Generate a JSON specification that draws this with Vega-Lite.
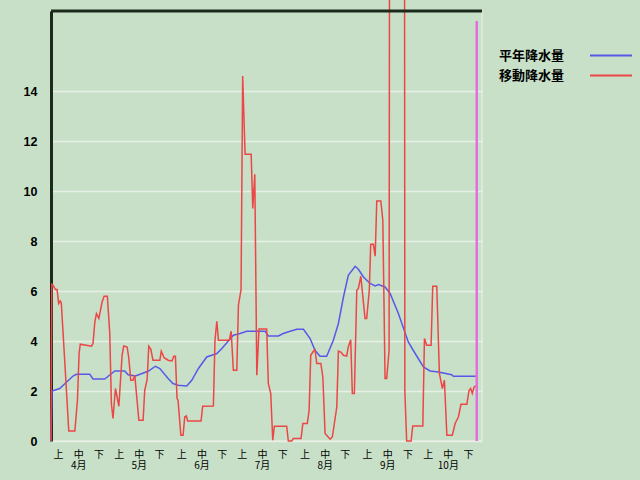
{
  "$schema": "https://vega.github.io/schema/vega-lite/v6.json",
  "width": 431,
  "height": 430,
  "autosize": {"type": "none"},
  "padding": {"left": 51, "top": 11, "right": 158, "bottom": 40},
  "background": "#c8e0c8",
  "config": {
    "view": {"stroke": "#e2ece0", "strokeWidth": 1.5},
    "font": "Noto Sans CJK JP",
    "axis": {"labelOverlap": false}
  },
  "encoding": {
    "x": {
      "field": "d",
      "type": "quantitative",
      "scale": {"domain": [1.5, 214.9], "nice": false, "zero": false},
      "axis": {
        "values": [5, 15, 25, 35, 45, 55, 66, 76, 86, 96, 106, 116, 127, 137, 147, 158, 168, 178, 188, 198, 208],
        "labelExpr": "indexof([5,15,25,35,45,55,66,76,86,96,106,116,127,137,147,158,168,178,188,198,208], datum.value) % 3 == 1 ? ['中', (floor(indexof([5,15,25,35,45,55,66,76,86,96,106,116,127,137,147,158,168,178,188,198,208], datum.value) / 3) + 4) + '月'] : (indexof([5,15,25,35,45,55,66,76,86,96,106,116,127,137,147,158,168,178,188,198,208], datum.value) % 3 == 0 ? '上' : '下')",
        "grid": false,
        "domain": false,
        "ticks": false,
        "labelPadding": 8,
        "labelFont": "Noto Sans CJK JP",
        "labelFontSize": 10,
        "labelColor": "#000000",
        "labelAngle": 0,
        "labelBaseline": "top",
        "labelLineHeight": 11,
        "labelOverlap": false,
        "labelBound": false,
        "labelFlush": false,
        "title": null
      }
    },
    "y": {
      "field": "v",
      "type": "quantitative",
      "scale": {"domain": [0, 17.2], "nice": false},
      "axis": {
        "values": [0, 2, 4, 6, 8, 10, 12, 14],
        "grid": true,
        "gridColor": "#e6f0e4",
        "gridWidth": 1.5,
        "domainColor": "#1c2a1c",
        "domainWidth": 3,
        "ticks": false,
        "labelPadding": 14,
        "labelFont": "Liberation Sans",
        "labelFontWeight": "bold",
        "labelFontSize": 12.5,
        "labelColor": "#000000",
        "title": null
      }
    }
  },
  "layer": [
    {
      "data": {
        "values": [
          {"s": "平年降水量", "d": 1.5, "v": 0},
          {"s": "平年降水量", "d": 2.0, "v": 2.0},
          {"s": "平年降水量", "d": 5.8, "v": 2.1},
          {"s": "平年降水量", "d": 12.4, "v": 2.6},
          {"s": "平年降水量", "d": 14.1, "v": 2.67},
          {"s": "平年降水量", "d": 20.7, "v": 2.67},
          {"s": "平年降水量", "d": 22.3, "v": 2.48},
          {"s": "平年降水量", "d": 28.1, "v": 2.48},
          {"s": "平年降水量", "d": 29.8, "v": 2.59},
          {"s": "平年降水量", "d": 33.1, "v": 2.8},
          {"s": "平年降水量", "d": 38.0, "v": 2.8},
          {"s": "平年降水量", "d": 39.7, "v": 2.65},
          {"s": "平年降水量", "d": 43.3, "v": 2.6},
          {"s": "平年降水量", "d": 49.6, "v": 2.79},
          {"s": "平年降水量", "d": 53.2, "v": 2.99},
          {"s": "平年降水量", "d": 55.4, "v": 2.9},
          {"s": "平年降水量", "d": 59.5, "v": 2.5},
          {"s": "平年降水量", "d": 61.9, "v": 2.3},
          {"s": "平年降水量", "d": 64.4, "v": 2.23},
          {"s": "平年降水量", "d": 68.7, "v": 2.2},
          {"s": "平年降水量", "d": 71.2, "v": 2.43},
          {"s": "平年降水量", "d": 74.5, "v": 2.9},
          {"s": "平年降水量", "d": 78.6, "v": 3.36},
          {"s": "平年降水量", "d": 81.1, "v": 3.43},
          {"s": "平年降水量", "d": 83.6, "v": 3.5},
          {"s": "平年降水量", "d": 86.1, "v": 3.7},
          {"s": "平年降水量", "d": 89.3, "v": 4.0},
          {"s": "平年降水量", "d": 91.8, "v": 4.23},
          {"s": "平年降水量", "d": 95.1, "v": 4.3},
          {"s": "平年降水量", "d": 98.4, "v": 4.39},
          {"s": "平年降水量", "d": 107.5, "v": 4.39},
          {"s": "平年降水量", "d": 109.1, "v": 4.2},
          {"s": "平年降水量", "d": 114.1, "v": 4.2},
          {"s": "平年降水量", "d": 116.5, "v": 4.3},
          {"s": "平年降水量", "d": 119.9, "v": 4.39},
          {"s": "平年降水量", "d": 123.2, "v": 4.47},
          {"s": "平年降水量", "d": 126.5, "v": 4.47},
          {"s": "平年降水量", "d": 129.8, "v": 4.1},
          {"s": "平年降水量", "d": 132.2, "v": 3.63},
          {"s": "平年降水量", "d": 134.7, "v": 3.39},
          {"s": "平年降水量", "d": 138.0, "v": 3.39},
          {"s": "平年降水量", "d": 141.3, "v": 4.03},
          {"s": "平年降水量", "d": 143.8, "v": 4.7},
          {"s": "平年降水量", "d": 146.3, "v": 5.76},
          {"s": "平年降水量", "d": 148.7, "v": 6.63},
          {"s": "平年降水量", "d": 152.1, "v": 6.99},
          {"s": "平年降水量", "d": 153.7, "v": 6.87},
          {"s": "平年降水量", "d": 156.2, "v": 6.56},
          {"s": "平年降水量", "d": 159.5, "v": 6.3},
          {"s": "平年降水量", "d": 162.0, "v": 6.2},
          {"s": "平年降水量", "d": 163.6, "v": 6.26},
          {"s": "平年降水量", "d": 166.9, "v": 6.16},
          {"s": "平年降水量", "d": 169.4, "v": 5.9},
          {"s": "平年降水量", "d": 173.5, "v": 5.1},
          {"s": "平年降水量", "d": 178.4, "v": 3.96},
          {"s": "平年降水量", "d": 181.8, "v": 3.5},
          {"s": "平年降水量", "d": 185.9, "v": 2.96},
          {"s": "平年降水量", "d": 189.2, "v": 2.8},
          {"s": "平年降水量", "d": 193.3, "v": 2.76},
          {"s": "平年降水量", "d": 199.9, "v": 2.65},
          {"s": "平年降水量", "d": 200.7, "v": 2.59},
          {"s": "平年降水量", "d": 212.3, "v": 2.59},
          {"s": "移動降水量", "d": 1.5, "v": 0},
          {"s": "移動降水量", "d": 1.9, "v": 6.27},
          {"s": "移動降水量", "d": 2.5, "v": 6.23},
          {"s": "移動降水量", "d": 3.7, "v": 6.06},
          {"s": "移動降水量", "d": 4.5, "v": 6.06},
          {"s": "移動降水量", "d": 5.3, "v": 5.5},
          {"s": "移動降水量", "d": 6.1, "v": 5.6},
          {"s": "移動降水量", "d": 6.6, "v": 5.52},
          {"s": "移動降水量", "d": 8.3, "v": 3.2},
          {"s": "移動降水量", "d": 10.3, "v": 0.4},
          {"s": "移動降水量", "d": 13.3, "v": 0.4},
          {"s": "移動降水量", "d": 14.6, "v": 1.63},
          {"s": "移動降水量", "d": 15.4, "v": 3.5},
          {"s": "移動降水量", "d": 16.0, "v": 3.87},
          {"s": "移動降水量", "d": 21.5, "v": 3.79},
          {"s": "移動降水量", "d": 22.3, "v": 3.9},
          {"s": "移動降水量", "d": 23.2, "v": 4.76},
          {"s": "移動降水量", "d": 24.0, "v": 5.1},
          {"s": "移動降水量", "d": 25.2, "v": 4.9},
          {"s": "移動降水量", "d": 26.8, "v": 5.56},
          {"s": "移動降水量", "d": 27.8, "v": 5.79},
          {"s": "移動降水量", "d": 29.4, "v": 5.79},
          {"s": "移動降水量", "d": 30.6, "v": 4.3},
          {"s": "移動降水量", "d": 31.4, "v": 1.5},
          {"s": "移動降水量", "d": 32.2, "v": 0.9},
          {"s": "移動降水量", "d": 33.4, "v": 2.1},
          {"s": "移動降水量", "d": 35.1, "v": 1.39},
          {"s": "移動降水量", "d": 36.7, "v": 3.43},
          {"s": "移動降水量", "d": 37.5, "v": 3.8},
          {"s": "移動降水量", "d": 39.2, "v": 3.76},
          {"s": "移動降水量", "d": 40.0, "v": 3.33},
          {"s": "移動降水量", "d": 41.0, "v": 2.43},
          {"s": "移動降水量", "d": 42.1, "v": 2.43},
          {"s": "移動降水量", "d": 43.0, "v": 2.63},
          {"s": "移動降水量", "d": 43.8, "v": 1.9},
          {"s": "移動降水量", "d": 45.0, "v": 0.83},
          {"s": "移動降水量", "d": 47.1, "v": 0.83},
          {"s": "移動降水量", "d": 47.9, "v": 2.03},
          {"s": "移動降水量", "d": 49.1, "v": 2.46},
          {"s": "移動降水量", "d": 49.9, "v": 3.79},
          {"s": "移動降水量", "d": 50.9, "v": 3.68},
          {"s": "移動降水量", "d": 52.0, "v": 3.23},
          {"s": "移動降水量", "d": 55.4, "v": 3.23},
          {"s": "移動降水量", "d": 56.1, "v": 3.59},
          {"s": "移動降水量", "d": 57.5, "v": 3.33},
          {"s": "移動降水量", "d": 59.5, "v": 3.23},
          {"s": "移動降水量", "d": 61.4, "v": 3.2},
          {"s": "移動降水量", "d": 62.3, "v": 3.39},
          {"s": "移動降水量", "d": 63.1, "v": 3.39},
          {"s": "移動降水量", "d": 63.9, "v": 1.7},
          {"s": "移動降水量", "d": 64.4, "v": 1.63},
          {"s": "移動降水量", "d": 65.8, "v": 0.23},
          {"s": "移動降水量", "d": 66.9, "v": 0.23},
          {"s": "移動降水量", "d": 67.7, "v": 0.96},
          {"s": "移動降水量", "d": 68.5, "v": 1.0},
          {"s": "移動降水量", "d": 69.2, "v": 0.8},
          {"s": "移動降水量", "d": 75.8, "v": 0.8},
          {"s": "移動降水量", "d": 76.6, "v": 1.39},
          {"s": "移動降水量", "d": 81.9, "v": 1.4},
          {"s": "移動降水量", "d": 82.7, "v": 4.03},
          {"s": "移動降水量", "d": 83.6, "v": 4.79},
          {"s": "移動降水量", "d": 84.4, "v": 4.03},
          {"s": "移動降水量", "d": 89.8, "v": 4.03},
          {"s": "移動降水量", "d": 90.7, "v": 4.39},
          {"s": "移動降水量", "d": 91.8, "v": 2.83},
          {"s": "移動降水量", "d": 93.5, "v": 2.83},
          {"s": "移動降水量", "d": 94.3, "v": 5.43},
          {"s": "移動降水量", "d": 95.6, "v": 6.06},
          {"s": "移動降水量", "d": 96.4, "v": 14.6},
          {"s": "移動降水量", "d": 97.6, "v": 11.47},
          {"s": "移動降水量", "d": 100.6, "v": 11.47},
          {"s": "移動降水量", "d": 101.4, "v": 9.3},
          {"s": "移動降水量", "d": 102.4, "v": 10.67},
          {"s": "移動降水量", "d": 103.4, "v": 2.63},
          {"s": "移動降水量", "d": 104.5, "v": 4.48},
          {"s": "移動降水量", "d": 108.3, "v": 4.48},
          {"s": "移動降水量", "d": 109.1, "v": 2.3},
          {"s": "移動降水量", "d": 110.3, "v": 1.9},
          {"s": "移動降水量", "d": 111.3, "v": 0.03},
          {"s": "移動降水量", "d": 112.1, "v": 0.59},
          {"s": "移動降水量", "d": 118.2, "v": 0.59},
          {"s": "移動降水量", "d": 119.0, "v": 0.0},
          {"s": "移動降水量", "d": 120.7, "v": 0.0},
          {"s": "移動降水量", "d": 121.5, "v": 0.1},
          {"s": "移動降水量", "d": 125.3, "v": 0.1},
          {"s": "移動降水量", "d": 126.2, "v": 0.7},
          {"s": "移動降水量", "d": 128.4, "v": 0.7},
          {"s": "移動降水量", "d": 129.3, "v": 1.23},
          {"s": "移動降水量", "d": 130.1, "v": 3.43},
          {"s": "移動降水量", "d": 131.4, "v": 3.59},
          {"s": "移動降水量", "d": 132.2, "v": 3.65},
          {"s": "移動降水量", "d": 133.1, "v": 3.1},
          {"s": "移動降水量", "d": 135.1, "v": 3.1},
          {"s": "移動降水量", "d": 136.1, "v": 2.56},
          {"s": "移動降水量", "d": 137.2, "v": 0.3},
          {"s": "移動降水量", "d": 139.7, "v": 0.07},
          {"s": "移動降水量", "d": 140.8, "v": 0.16},
          {"s": "移動降水量", "d": 143.0, "v": 1.36},
          {"s": "移動降水量", "d": 143.8, "v": 3.6},
          {"s": "移動降水量", "d": 145.0, "v": 3.56},
          {"s": "移動降水量", "d": 146.3, "v": 3.43},
          {"s": "移動降水量", "d": 147.9, "v": 3.4},
          {"s": "移動降水量", "d": 148.7, "v": 3.76},
          {"s": "移動降水量", "d": 149.9, "v": 4.05},
          {"s": "移動降水量", "d": 150.7, "v": 1.9},
          {"s": "移動降水量", "d": 151.7, "v": 1.9},
          {"s": "移動降水量", "d": 152.9, "v": 6.03},
          {"s": "移動降水量", "d": 153.7, "v": 6.1},
          {"s": "移動降水量", "d": 154.9, "v": 6.59},
          {"s": "移動降水量", "d": 157.0, "v": 4.9},
          {"s": "移動降水量", "d": 157.8, "v": 4.9},
          {"s": "移動降水量", "d": 159.1, "v": 6.03},
          {"s": "移動降水量", "d": 159.8, "v": 7.87},
          {"s": "移動降水量", "d": 161.1, "v": 7.87},
          {"s": "移動降水量", "d": 162.0, "v": 7.39},
          {"s": "移動降水量", "d": 162.8, "v": 9.6},
          {"s": "移動降水量", "d": 164.8, "v": 9.6},
          {"s": "移動降水量", "d": 165.8, "v": 8.83},
          {"s": "移動降水量", "d": 166.9, "v": 2.5},
          {"s": "移動降水量", "d": 167.7, "v": 2.5},
          {"s": "移動降水量", "d": 168.9, "v": 3.63},
          {"s": "移動降水量", "d": 169.6, "v": 60},
          {"s": "移動降水量", "d": 176.2, "v": 60},
          {"s": "移動降水量", "d": 176.7, "v": 2.0},
          {"s": "移動降水量", "d": 177.6, "v": 0},
          {"s": "移動降水量", "d": 179.8, "v": 0},
          {"s": "移動降水量", "d": 180.6, "v": 0.6},
          {"s": "移動降水量", "d": 185.6, "v": 0.6},
          {"s": "移動降水量", "d": 186.4, "v": 4.1},
          {"s": "移動降水量", "d": 187.5, "v": 3.83},
          {"s": "移動降水量", "d": 189.7, "v": 3.83},
          {"s": "移動降水量", "d": 190.5, "v": 6.19},
          {"s": "移動降水量", "d": 192.5, "v": 6.19},
          {"s": "移動降水量", "d": 193.8, "v": 2.7},
          {"s": "移動降水量", "d": 195.3, "v": 2.1},
          {"s": "移動降水量", "d": 196.3, "v": 2.43},
          {"s": "移動降水量", "d": 197.5, "v": 0.23},
          {"s": "移動降水量", "d": 200.2, "v": 0.23},
          {"s": "移動降水量", "d": 201.6, "v": 0.7},
          {"s": "移動降水量", "d": 203.2, "v": 0.96},
          {"s": "移動降水量", "d": 204.5, "v": 1.47},
          {"s": "移動降水量", "d": 207.4, "v": 1.47},
          {"s": "移動降水量", "d": 208.5, "v": 2.03},
          {"s": "移動降水量", "d": 209.3, "v": 2.1},
          {"s": "移動降水量", "d": 210.1, "v": 1.9},
          {"s": "移動降水量", "d": 211.0, "v": 2.16},
          {"s": "移動降水量", "d": 212.0, "v": 2.22}
        ]
      },
      "mark": {"type": "line", "strokeWidth": 1.5},
      "encoding": {
        "color": {
          "field": "s",
          "type": "nominal",
          "scale": {"domain": ["平年降水量", "移動降水量"], "range": ["#5858e8", "#ec4646"]},
          "legend": {
            "orient": "none",
            "legendX": 548.5,
            "legendY": 33,
            "title": null,
            "symbolType": "M-2,0H2",
            "symbolSize": 441,
            "symbolStrokeWidth": 2,
            "labelOffset": -58.5,
            "labelAlign": "right",
            "rowPadding": 1,
            "padding": 0,
            "labelFont": "Noto Sans CJK JP",
            "labelFontSize": 13,
            "labelFontWeight": "bold",
            "labelColor": "#000000"
          }
        },
        "order": {"field": "d", "type": "quantitative"}
      }
    },
    {
      "data": {"values": [{"d": 212.3, "v": 0, "v2": 16.8}]},
      "mark": {"type": "rule", "color": "#e070e0", "strokeWidth": 2.5},
      "encoding": {
        "y2": {"field": "v2"}
      }
    },
    {
      "data": {"values": [{"d": 1.5, "d2": 214.9, "v": 17.2}]},
      "mark": {"type": "rule", "color": "#1c2a1c", "strokeWidth": 3},
      "encoding": {
        "x2": {"field": "d2"}
      }
    }
  ]
}
